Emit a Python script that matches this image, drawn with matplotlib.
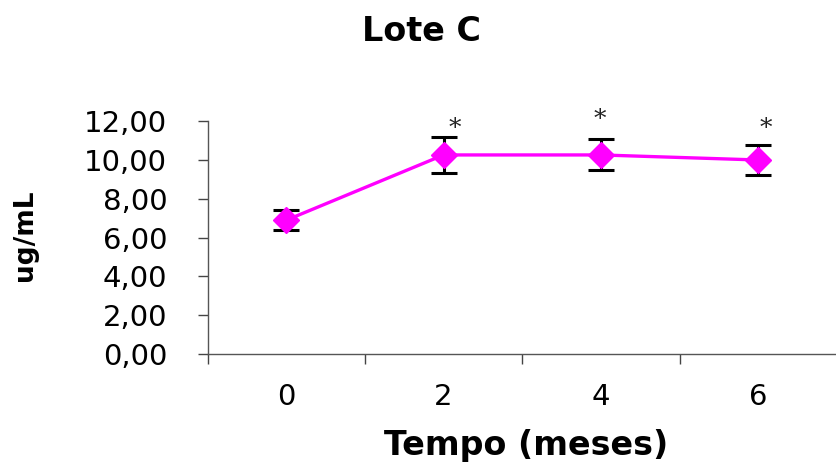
import matplotlib
matplotlib.use('Agg')
import matplotlib.pyplot as plt
import numpy as np

# 数据
tempo = ['0', '2', '4', '6']
media = [6.9, 10.26, 10.26, 10.0]
erro = [0.5, 0.92, 0.8, 0.75]
signif = ['', '*', '*', '*']
asterisco_y = [0, 11.6, 12.1, 11.6]
asterisco_dx = [0, 0.07, -0.01, 0.05]

plt.rcParams['font.family'] = ['DejaVu Sans']

fig = plt.figure(figsize=(8.37, 4.66), dpi=100)
ax = fig.add_axes([0.248, 0.240, 0.752, 0.500])

x = np.arange(len(tempo))
ax.errorbar(x, media, yerr=erro, fmt='none', ecolor='black', elinewidth=2.2,
            capsize=9.5, capthick=2.2, zorder=2)
ax.plot(x, media, color='#ff00ff', lw=2.4, marker='D', markersize=13,
        markerfacecolor='#ff00ff', markeredgecolor='#ff00ff', zorder=3)

for xi, s, yi, dx in zip(x, signif, asterisco_y, asterisco_dx):
    if s:
        ax.text(xi + dx, yi, s, ha='center', va='center', fontsize=18,
                family='DejaVu Serif', color='#222222')

ax.set_ylim(0, 12)
ax.set_yticks(np.arange(0, 12.1, 2))
ax.set_yticklabels([f'{v:.2f}'.replace('.', ',') for v in np.arange(0, 12.1, 2)],
                   fontsize=21)
ax.set_xlim(-0.5, len(tempo) - 0.5)
ax.set_xticks(np.arange(-0.5, len(tempo) - 0.4, 1.0))
ax.set_xticklabels([])
ax.set_xticks(x, minor=True)
ax.set_xticklabels(tempo, minor=True, fontsize=21)
ax.tick_params(axis='x', which='minor', length=0, pad=21)
ax.tick_params(axis='x', which='major', length=7, width=1, color='#444444', direction='out')
ax.tick_params(axis='y', length=7, width=1, color='#444444', direction='out', pad=22)

for s in ['top', 'right']:
    ax.spines[s].set_visible(False)
for s in ['left', 'bottom']:
    ax.spines[s].set_color('#555555')
    ax.spines[s].set_linewidth(1)

fig.text(0.503, 0.933, 'Lote C', ha='center', va='center', fontsize=24, fontweight='bold')
fig.text(0.629, 0.043, 'Tempo (meses)', ha='center', va='center',
         fontsize=24, fontweight='bold')
fig.text(0.030, 0.496, 'ug/mL', ha='center', va='center', rotation=90,
         fontsize=19, fontweight='bold')

fig.savefig('out.png', dpi=100)
plt.close()
